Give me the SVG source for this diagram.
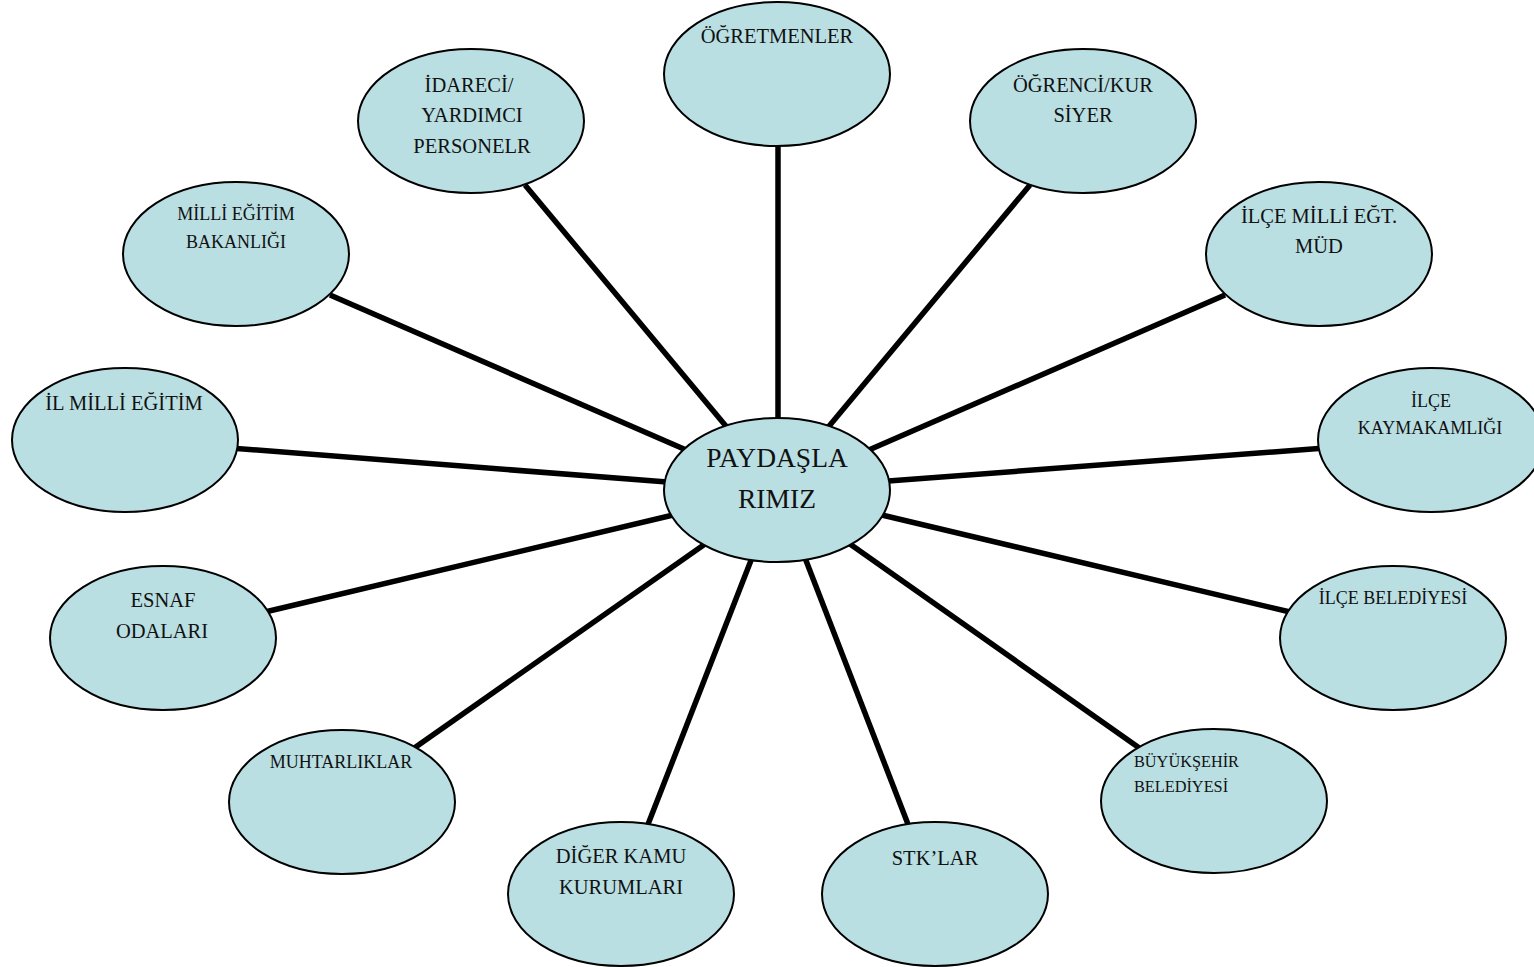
<svg xmlns="http://www.w3.org/2000/svg" width="1534" height="967" viewBox="0 0 1534 967">
<style>
.n{fill:#B9DFE3;stroke:#000;stroke-width:2}
.c line{stroke:#000;stroke-width:5.5}
text{font-family:"Liberation Serif","Times New Roman",serif;fill:#111;text-anchor:middle}
.l{font-size:20.5px}
.s{font-size:18px}
.xs{font-size:16.3px;text-anchor:start}
.h{font-size:27.5px}
</style>
<rect width="1534" height="967" fill="#fff"/>
<g id="connectors" class="c">
<line x1="778" y1="140" x2="778" y2="430"/>
<line x1="525" y1="185" x2="735" y2="437"/>
<line x1="1030" y1="185" x2="820" y2="437"/>
<line x1="330" y1="295" x2="700" y2="456"/>
<line x1="1225" y1="295" x2="855" y2="456"/>
<line x1="230" y1="448" x2="680" y2="483"/>
<line x1="1325" y1="448" x2="875" y2="482"/>
<line x1="265" y1="612" x2="690" y2="511"/>
<line x1="1290" y1="612" x2="865" y2="511"/>
<line x1="410" y1="751" x2="715" y2="537"/>
<line x1="1145" y1="752" x2="840" y2="537"/>
<line x1="645" y1="832" x2="757" y2="545"/>
<line x1="911" y1="832" x2="800" y2="545"/>
</g>
<g id="hub"><ellipse class="n" cx="777" cy="490" rx="113" ry="72"/><text class="h" x="777" y="467">PAYDAŞLA</text><text class="h" x="777" y="508">RIMIZ</text></g>
<g id="ogretmenler"><ellipse class="n" cx="777" cy="74" rx="113" ry="72"/><text class="l" x="777" y="43">ÖĞRETMENLER</text></g>
<g id="idareci"><ellipse class="n" cx="471" cy="121" rx="113" ry="72"/><text class="l" x="469" y="92">İDARECİ/</text><text class="l" x="472" y="122">YARDIMCI</text><text class="l" x="472" y="153">PERSONELR</text></g>
<g id="ogrenci"><ellipse class="n" cx="1083" cy="121" rx="113" ry="72"/><text class="l" x="1083" y="92">ÖĞRENCİ/KUR</text><text class="l" x="1083" y="122">SİYER</text></g>
<g id="meb"><ellipse class="n" cx="236" cy="254" rx="113" ry="72"/><text class="s" x="236" y="220">MİLLİ EĞİTİM</text><text class="s" x="236" y="248">BAKANLIĞI</text></g>
<g id="ilce-meb"><ellipse class="n" cx="1319" cy="254" rx="113" ry="72"/><text class="l" x="1319" y="223">İLÇE MİLLİ EĞT.</text><text class="l" x="1319" y="253">MÜD</text></g>
<g id="il-meb"><ellipse class="n" cx="125" cy="440" rx="113" ry="72"/><text class="l" x="124" y="410">İL MİLLİ EĞİTİM</text></g>
<g id="kaymakamlik"><ellipse class="n" cx="1431" cy="440" rx="113" ry="72"/><text class="s" x="1431" y="407">İLÇE</text><text class="s" x="1430" y="434">KAYMAKAMLIĞI</text></g>
<g id="esnaf"><ellipse class="n" cx="163" cy="638" rx="113" ry="72"/><text class="l" x="163" y="607">ESNAF</text><text class="l" x="162" y="638">ODALARI</text></g>
<g id="ilce-belediyesi"><ellipse class="n" cx="1393" cy="638" rx="113" ry="72"/><text class="s" x="1393" y="604">İLÇE BELEDİYESİ</text></g>
<g id="muhtarliklar"><ellipse class="n" cx="342" cy="802" rx="113" ry="72"/><text class="s" x="341" y="768">MUHTARLIKLAR</text></g>
<g id="buyuksehir"><ellipse class="n" cx="1214" cy="801" rx="113" ry="72"/><text class="xs" x="1134" y="767">BÜYÜKŞEHİR</text><text class="xs" x="1134" y="792">BELEDİYESİ</text></g>
<g id="diger-kamu"><ellipse class="n" cx="621" cy="894" rx="113" ry="72"/><text class="l" x="621" y="863">DİĞER KAMU</text><text class="l" x="621" y="894">KURUMLARI</text></g>
<g id="stk"><ellipse class="n" cx="935" cy="894" rx="113" ry="72"/><text class="l" x="935" y="865">STK’LAR</text></g>
</svg>
